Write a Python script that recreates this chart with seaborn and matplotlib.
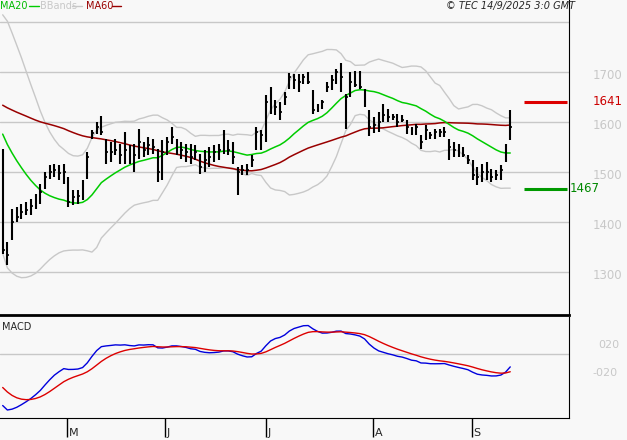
import numpy as np
import pandas as pd
import matplotlib
matplotlib.use('Agg')
import matplotlib.pyplot as plt
import matplotlib.transforms as mtrans
import seaborn as sns

# closes before the visible window (estimated, only used to seed the indicators)
warmup = [1650, 1665, 1670, 1655, 1660, 1675, 1680, 1665, 1650, 1645,
          1660, 1670, 1685, 1690, 1675, 1660, 1650, 1655, 1665, 1670,
          1660, 1645, 1640, 1655, 1665, 1675, 1680, 1670, 1660, 1650,
          1645, 1655, 1660, 1670, 1665, 1655, 1650, 1660, 1670, 1675,
          1750, 1740, 1720, 1700, 1690, 1670, 1650, 1640, 1620, 1600,
          1580, 1560, 1540, 1510, 1490, 1460, 1440, 1420, 1390]

highs = [1547, 1361, 1427, 1431, 1437, 1441, 1447, 1457, 1477, 1501,
         1514, 1517, 1514, 1517, 1491, 1464, 1464, 1484, 1541, 1584,
         1601, 1612, 1567, 1561, 1567, 1557, 1581, 1554, 1557, 1587,
         1561, 1571, 1567, 1547, 1564, 1571, 1591, 1567, 1561, 1557,
         1557, 1554, 1537, 1544, 1551, 1554, 1557, 1584, 1564, 1561,
         1511, 1514, 1517, 1534, 1591, 1584, 1654, 1671, 1644, 1641,
         1661, 1699, 1696, 1696, 1697, 1701, 1664, 1637, 1644, 1681,
         1694, 1707, 1719, 1657, 1701, 1703, 1703, 1667, 1625, 1611,
         1621, 1637, 1627, 1617, 1617, 1614, 1604, 1591, 1597, 1574,
         1594, 1581, 1587, 1587, 1591, 1567, 1561, 1557, 1551, 1534,
         1524, 1511, 1517, 1521, 1507, 1504, 1514, 1557, 1624]
lows = [1336, 1314, 1364, 1401, 1407, 1414, 1414, 1427, 1437, 1467,
        1487, 1491, 1484, 1477, 1431, 1434, 1437, 1444, 1487, 1567,
        1577, 1574, 1517, 1521, 1534, 1517, 1517, 1517, 1501, 1527,
        1531, 1534, 1537, 1481, 1484, 1534, 1557, 1534, 1527, 1521,
        1517, 1524, 1497, 1501, 1511, 1521, 1524, 1537, 1534, 1517,
        1454, 1494, 1494, 1511, 1544, 1544, 1561, 1617, 1614, 1604,
        1634, 1667, 1667, 1661, 1677, 1677, 1617, 1621, 1627, 1661,
        1664, 1677, 1661, 1587, 1651, 1671, 1667, 1631, 1572, 1579,
        1581, 1601, 1601, 1604, 1591, 1601, 1577, 1574, 1574, 1547,
        1565, 1567, 1567, 1571, 1571, 1524, 1531, 1531, 1531, 1517,
        1484, 1474, 1481, 1484, 1481, 1484, 1484, 1521, 1564]
closes = [1345, 1334, 1400, 1410, 1420, 1425, 1432, 1445, 1460, 1490,
          1500, 1505, 1498, 1500, 1440, 1450, 1452, 1470, 1530, 1578,
          1590, 1580, 1540, 1540, 1545, 1535, 1545, 1530, 1535, 1560,
          1545, 1555, 1550, 1500, 1540, 1560, 1570, 1555, 1545, 1540,
          1530, 1540, 1510, 1525, 1530, 1540, 1545, 1560, 1545, 1530,
          1500, 1505, 1505, 1525, 1580, 1575, 1640, 1650, 1630, 1620,
          1650, 1690, 1685, 1680, 1690, 1680, 1625, 1630, 1640, 1670,
          1685, 1700, 1690, 1650, 1680, 1675, 1670, 1640, 1590, 1595,
          1600, 1615, 1610, 1610, 1600, 1605, 1590, 1580, 1590, 1560,
          1585, 1575, 1580, 1580, 1580, 1550, 1545, 1540, 1535, 1525,
          1495, 1490, 1500, 1500, 1490, 1495, 1505, 1540, 1590]

month_labels = ['M', 'J', 'J', 'A', 'S']
month_pos = [13.7, 34.5, 56.0, 78.8, 99.8]
price_ticks = [1300, 1400, 1500, 1600, 1700]
upper_level = 1641
lower_level = 1467

n = len(closes)
full = pd.Series(warmup + closes, dtype=float)
ma20 = full.rolling(20).mean()
sd20 = full.rolling(20).std(ddof=0)
ma60 = full.rolling(60).mean()
macd = full.ewm(span=12, adjust=False).mean() - full.ewm(span=26, adjust=False).mean()
signal = macd.ewm(span=9, adjust=False).mean()
k = len(warmup)
df = pd.DataFrame({
    'i': np.arange(n),
    'ma20': ma20.values[k:], 'up': (ma20 + 2 * sd20).values[k:],
    'lo': (ma20 - 2 * sd20).values[k:], 'ma60': ma60.values[k:],
    'macd': macd.values[k:], 'signal': signal.values[k:],
})

sns.set_style('white')
bg = '#f8f8f8'
W, H = 627, 440
fig = plt.figure(figsize=(W / 100, H / 100), dpi=100, facecolor=bg)
ax = fig.add_axes([0, (H - 315) / H, 569 / W, 315 / H], facecolor=bg)
ax2 = fig.add_axes([0, (H - 418) / H, 569 / W, 101 / H], facecolor=bg)

xlim = (-0.57, 120.5)

# price panel
ax.set_xlim(*xlim)
ax.set_ylim(1214, 1844)
for p in price_ticks + [1800]:
    ax.axhline(p, color='#c8c8c8', lw=1, zorder=0)
sns.lineplot(data=df, x='i', y='up', ax=ax, color='#c8c8c8', lw=1)
sns.lineplot(data=df, x='i', y='lo', ax=ax, color='#c8c8c8', lw=1)
sns.lineplot(data=df, x='i', y='ma60', ax=ax, color='#990000', lw=1.1)
sns.lineplot(data=df, x='i', y='ma20', ax=ax, color='#00cc00', lw=1.1)
ax.vlines(df['i'], lows, highs, color='black', lw=1.5, zorder=5)
ax.hlines(closes, df['i'], df['i'] + 0.4, color='black', lw=1.2, zorder=5)
ax.hlines(upper_level, 110.9, 120, color='#dd0000', lw=2.2, zorder=6)
ax.hlines(lower_level, 110.9, 120, color='#009900', lw=2.2, zorder=6)
ax.set_xticks([])
ax.set_yticks([])
ax.set_xlabel('')
ax.set_ylabel('')
for s in ['left', 'top']:
    ax.spines[s].set_visible(False)
ax.spines['right'].set_color('black')
ax.spines['bottom'].set_color('black')
ax.spines['bottom'].set_linewidth(2)

tr = mtrans.blended_transform_factory(fig.transFigure, ax.transData)
for p in price_ticks:
    ax.text(593 / W, p - 6, str(p), transform=tr, color='#c8c8c8', fontsize=8.5, va='center')
ax.text(593 / W, upper_level, str(upper_level), transform=tr, color='#cc0000', fontsize=8.5, va='center')
ax.text(570 / W, lower_level, str(lower_level), transform=tr, color='#008800', fontsize=8.5, va='center')

# legend line at top
fig.text(0 / W, 1 - 6 / H, 'MA20', color='#00bb00', fontsize=7, va='center')
fig.lines.append(plt.Line2D([29 / W, 39 / W], [1 - 6 / H] * 2, color='#00cc00', lw=1, transform=fig.transFigure))
fig.text(40 / W, 1 - 6 / H, 'BBands', color='#c8c8c8', fontsize=7, va='center')
fig.lines.append(plt.Line2D([72 / W, 82 / W], [1 - 6 / H] * 2, color='#c8c8c8', lw=1, transform=fig.transFigure))
fig.text(86 / W, 1 - 6 / H, 'MA60', color='#990000', fontsize=7, va='center')
fig.lines.append(plt.Line2D([112 / W, 121 / W], [1 - 6 / H] * 2, color='#990000', lw=1, transform=fig.transFigure))
fig.text(575 / W, 1 - 6 / H, '© TEC 14/9/2025 3:0 GMT', fontsize=7, style='italic',
         ha='right', va='center')

# MACD panel
mmin = df['macd'].min()
scale = (410 - 354) / -mmin
ax2.set_xlim(*xlim)
ax2.set_ylim(-(418 - 354) / scale, (354 - 317) / scale)
ax2.axhline(0, color='#c8c8c8', lw=1, zorder=0)
sns.lineplot(data=df, x='i', y='macd', ax=ax2, color='#0000dd', lw=1)
sns.lineplot(data=df, x='i', y='signal', ax=ax2, color='#dd0000', lw=1)
ax2.set_xlabel('')
ax2.set_ylabel('')
ax2.set_yticks([])
ax2.set_xticks(month_pos)
ax2.set_xticklabels([])
ax2.tick_params(axis='x', direction='out', length=14, width=1, color='black', bottom=True)
for s in ['left', 'top']:
    ax2.spines[s].set_visible(False)
ax2.spines['right'].set_color('black')
ax2.spines['bottom'].set_color('black')
ax2.text(2 / 569, 1 - 10 / 101, 'MACD', transform=ax2.transAxes, fontsize=7, va='center')
ax2.text(598 / W, 1 - 345 / H, '020', transform=fig.transFigure, color='#c8c8c8', fontsize=8, va='center')
ax2.text(592 / W, 1 - 373 / H, '-020', transform=fig.transFigure, color='#c8c8c8', fontsize=8, va='center')
trx = mtrans.blended_transform_factory(ax2.transData, fig.transFigure)
for pos, lab in zip(month_pos, month_labels):
    ax2.text(pos + 0.3, 1 - 433 / H, lab, transform=trx, fontsize=8, va='center')

fig.savefig('out.png', dpi=100, facecolor=bg)
